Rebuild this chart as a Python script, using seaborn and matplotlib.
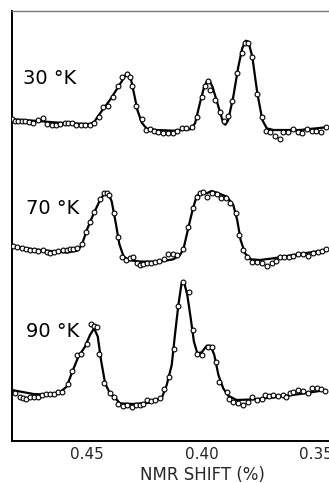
import numpy as np
import pandas as pd
import matplotlib
matplotlib.use("Agg")
import matplotlib.pyplot as plt
import seaborn as sns

# ---------------- data (NMR shift in %, signal in arbitrary units) ----------------
temps = ["30 °K", "70 °K", "90 °K"]
baseline_30 = 319.0
baseline_70 = 193.7
baseline_90 = 50.3

# 30 K measured points
shift_30_obs = [0.4829, 0.4814, 0.4800, 0.4785, 0.4771, 0.4752, 0.4734, 0.4713, 0.4694, 0.4676,
                0.4654, 0.4635, 0.4618, 0.4596, 0.4582, 0.4567, 0.4548, 0.4528, 0.4509, 0.4487,
                0.4468, 0.4449, 0.4429, 0.4407, 0.4385, 0.4363, 0.4346, 0.4327, 0.4312, 0.4302,
                0.4286, 0.4261, 0.4244, 0.4225, 0.4207, 0.4189, 0.4167, 0.4145, 0.4126, 0.4108,
                0.4087, 0.4068, 0.4043, 0.4021, 0.3999, 0.3985, 0.3970, 0.3963, 0.3941, 0.3919,
                0.3902, 0.3883, 0.3865, 0.3844, 0.3825, 0.3810, 0.3795, 0.3778, 0.3759, 0.3737,
                0.3720, 0.3701, 0.3679, 0.3657, 0.3643, 0.3621, 0.3599, 0.3580, 0.3563, 0.3541,
                0.3519, 0.3500, 0.3480, 0.3456]
sig_30_obs = [2.7, 1.3, 1.3, 1.3, 1.3, 0.3, -0.7, 2.0, 3.7, -2.0,
              -2.7, -2.7, -2.0, -0.7, -0.7, -1.3, -2.7, -2.7, -2.7, -3.3,
              -0.7, 5.3, 14.7, 16.0, 25.3, 36.0, 44.7, 48.0, 44.7, 36.0,
              16.0, 2.7, -8.0, -7.3, -8.7, -10.0, -10.7, -10.7, -10.7, -8.7,
              -6.0, -6.3, -5.3, 5.3, 25.3, 36.0, 40.7, 32.0, 22.0, 10.3,
              1.3, 6.0, 21.3, 49.3, 68.7, 78.7, 78.7, 64.7, 27.7, 4.7,
              -8.7, -10.0, -14.0, -16.7, -10.0, -10.0, -7.3, -9.7, -10.7, -7.3,
              -8.7, -8.7, -9.7, -4.7]
# 30 K fitted curve
shift_30_fit = [0.4829, 0.4734, 0.4589, 0.4487, 0.4468, 0.4443, 0.4400, 0.4363, 0.4334, 0.4322,
                0.4309, 0.4295, 0.4280, 0.4261, 0.4239, 0.4196, 0.4123, 0.4050, 0.4028, 0.4007,
                0.3989, 0.3975, 0.3966, 0.3951, 0.3926, 0.3905, 0.3896, 0.3884, 0.3861, 0.3839,
                0.3822, 0.3807, 0.3795, 0.3778, 0.3756, 0.3734, 0.3715, 0.3686, 0.3570, 0.3456]
sig_30_fit = [2.7, 1.3, -1.3, -2.0, 0.3, 8.7, 22.0, 35.3, 46.0, 49.3,
              43.7, 28.7, 12.0, -0.7, -6.7, -8.0, -8.7, -7.3, -1.3, 18.7,
              34.7, 41.3, 42.0, 34.7, 15.3, -0.7, -2.7, 1.3, 25.3, 55.3,
              73.7, 81.3, 80.3, 65.3, 28.7, 2.0, -6.3, -8.0, -8.0, -5.3]

# 70 K measured points
shift_70_obs = [0.4822, 0.4804, 0.4785, 0.4766, 0.4749, 0.4731, 0.4713, 0.4694, 0.4676, 0.4662,
                0.4644, 0.4625, 0.4606, 0.4589, 0.4574, 0.4560, 0.4542, 0.4523, 0.4504, 0.4487,
                0.4468, 0.4443, 0.4426, 0.4414, 0.4402, 0.4381, 0.4363, 0.4346, 0.4330, 0.4312,
                0.4301, 0.4283, 0.4269, 0.4254, 0.4239, 0.4222, 0.4203, 0.4184, 0.4162, 0.4145,
                0.4126, 0.4108, 0.4079, 0.4058, 0.4036, 0.4021, 0.4007, 0.3992, 0.3975, 0.3956,
                0.3934, 0.3916, 0.3894, 0.3876, 0.3849, 0.3835, 0.3817, 0.3800, 0.3778, 0.3759,
                0.3737, 0.3715, 0.3694, 0.3675, 0.3657, 0.3638, 0.3618, 0.3599, 0.3577, 0.3555,
                0.3534, 0.3512, 0.3493, 0.3475, 0.3456]
sig_70_obs = [1.3, 0.0, -1.0, -2.0, -2.7, -2.7, -3.3, -2.7, -4.3, -5.3,
              -4.7, -3.3, -2.7, -2.7, -2.0, -2.0, -1.0, 3.3, 15.7, 25.7,
              35.7, 48.0, 54.0, 54.7, 52.3, 34.0, 10.0, -9.3, -12.7, -11.0,
              -9.3, -16.0, -17.7, -16.7, -16.0, -15.3, -14.3, -13.3, -12.0, -7.0,
              -6.7, -7.7, -2.0, 20.0, 39.0, 50.0, 54.0, 55.0, 50.7, 54.0,
              53.3, 49.0, 49.0, 44.7, 34.0, 12.3, -2.7, -9.3, -14.3, -14.3,
              -16.0, -18.7, -16.0, -13.3, -10.0, -10.0, -9.3, -8.7, -6.7, -7.0,
              -8.3, -5.3, -4.3, -3.3, -2.0]
# 70 K fitted curve
shift_70_fit = [0.4829, 0.4734, 0.4589, 0.4542, 0.4523, 0.4501, 0.4472, 0.4443, 0.4421, 0.4407,
                0.4392, 0.4373, 0.4359, 0.4341, 0.4320, 0.4269, 0.4181, 0.4123, 0.4094, 0.4079,
                0.4058, 0.4039, 0.4021, 0.3999, 0.3977, 0.3956, 0.3934, 0.3890, 0.3861, 0.3844,
                0.3829, 0.3810, 0.3785, 0.3745, 0.3686, 0.3643, 0.3570, 0.3456]
sig_70_fit = [1.3, -2.0, -5.3, -3.3, 2.3, 17.3, 33.3, 47.3, 54.7, 54.0,
              45.7, 22.3, 3.3, -8.7, -12.7, -14.3, -14.3, -12.0, -7.7, -2.0,
              19.0, 37.3, 51.3, 55.7, 54.0, 56.3, 54.7, 50.7, 42.3, 27.3,
              7.3, -6.0, -12.0, -12.7, -11.0, -9.3, -6.7, -2.7]

# 90 K measured points
shift_90_obs = [0.4814, 0.4795, 0.4781, 0.4766, 0.4749, 0.4731, 0.4713, 0.4698, 0.4679, 0.4662,
                0.4644, 0.4628, 0.4608, 0.4584, 0.4567, 0.4545, 0.4526, 0.4501, 0.4483, 0.4468,
                0.4458, 0.4446, 0.4424, 0.4400, 0.4382, 0.4363, 0.4344, 0.4327, 0.4305, 0.4286,
                0.4269, 0.4254, 0.4239, 0.4222, 0.4203, 0.4181, 0.4164, 0.4140, 0.4120, 0.4101,
                0.4082, 0.4053, 0.4039, 0.4021, 0.3996, 0.3973, 0.3956, 0.3937, 0.3922, 0.3890,
                0.3878, 0.3861, 0.3839, 0.3817, 0.3798, 0.3778, 0.3759, 0.3737, 0.3723, 0.3704,
                0.3686, 0.3664, 0.3643, 0.3631, 0.3614, 0.3599, 0.3577, 0.3555, 0.3534, 0.3515,
                0.3497, 0.3480, 0.3461]
sig_90_obs = [-2.0, -6.0, -7.7, -8.7, -6.7, -6.0, -6.7, -4.3, -3.3, -3.3,
              -3.3, -1.0, -1.0, 6.7, 20.0, 35.7, 36.7, 46.7, 66.7, 64.7,
              63.4, 36.7, 7.4, -2.6, -6.0, -13.3, -15.3, -14.3, -16.0, -14.3,
              -14.3, -13.3, -9.3, -10.0, -9.3, -7.0, 1.7, 14.0, 41.7, 85.0,
              109.0, 99.0, 60.7, 36.4, 35.7, 44.0, 44.0, 28.4, 9.0, -1.6,
              -8.7, -11.0, -12.0, -14.3, -11.0, -6.7, -9.3, -8.7, -4.3, -5.3,
              -4.3, -5.3, -4.3, -6.7, -2.7, -1.0, 0.7, 0.0, -2.7, 2.3,
              2.3, 1.3, 0.0]
# 90 K fitted curve
shift_90_fit = [0.4829, 0.4734, 0.4647, 0.4625, 0.4589, 0.4567, 0.4538, 0.4509, 0.4487, 0.4469,
                0.4453, 0.4439, 0.4421, 0.4400, 0.4378, 0.4356, 0.4298, 0.4225, 0.4189, 0.4174,
                0.4152, 0.4130, 0.4116, 0.4101, 0.4087, 0.4076, 0.4062, 0.4047, 0.4033, 0.4018,
                0.3999, 0.3977, 0.3960, 0.3944, 0.3926, 0.3905, 0.3883, 0.3846, 0.3774, 0.3686,
                0.3570, 0.3456]
sig_90_fit = [0.7, -3.3, -4.3, -2.6, 4.0, 17.4, 34.0, 44.0, 55.7, 62.4,
              54.0, 30.7, 7.4, -2.6, -7.0, -12.7, -13.3, -12.0, -8.7, -7.6,
              5.7, 25.7, 55.7, 85.7, 107.4, 108.4, 95.7, 72.4, 49.0, 37.4,
              38.4, 45.0, 45.0, 35.7, 15.7, 2.4, -5.0, -9.3, -8.7, -6.7,
              -3.3, 0.7]

xticks = [0.45, 0.40, 0.35]
xticklabels = ["0.45", "0.40", "0.35"]
xlabel = "NMR SHIFT (%)"

# ---------------- assemble ----------------
series = [
    (temps[0], baseline_30, shift_30_obs, sig_30_obs, shift_30_fit, sig_30_fit),
    (temps[1], baseline_70, shift_70_obs, sig_70_obs, shift_70_fit, sig_70_fit),
    (temps[2], baseline_90, shift_90_obs, sig_90_obs, shift_90_fit, sig_90_fit),
]

sns.set_style("white")
plt.rcParams["font.family"] = ["DejaVu Sans"]

W, H = 329, 483
fig = plt.figure(figsize=(W / 100, H / 100), dpi=100)
ax_left, ax_bottom, ax_top, ax_right = 11.5, 441.0, 10.5, 345.0
ax = fig.add_axes([ax_left / W, (H - ax_bottom) / H, (ax_right - ax_left) / W, (ax_bottom - ax_top) / H])

for name, base, sx, sy, fx, fy in series:
    fit = pd.DataFrame({"shift": fx, "height": np.array(fy) + base})
    obs = pd.DataFrame({"shift": sx, "height": np.array(sy) + base})
    sns.lineplot(data=fit, x="shift", y="height", estimator=None, sort=True,
                 color="black", linewidth=1.6, ax=ax, zorder=2)
    sns.scatterplot(data=obs, x="shift", y="height", marker="o", s=12,
                    facecolor="white", edgecolor="black", linewidth=0.8, ax=ax, zorder=3)

label_pos = {"30 °K": (0.4779, 357.0), "70 °K": (0.4766, 227.0), "90 °K": (0.4766, 104.0)}
for name, (lx, ly) in label_pos.items():
    ax.text(lx, ly, name, fontsize=14, ha="left", va="baseline", color="black")

# x range: pixel 11.5 -> 0.4830, pixel 345 -> 0.3373
ax.set_xlim(0.4830, 0.3373)
ax.set_ylim(0, ax_bottom - ax_top)
ax.set_xticks(xticks)
ax.set_xticklabels(xticklabels)
ax.set_yticks([])
ax.tick_params(axis="x", direction="in", length=10, width=1.0, pad=4, labelsize=11, color="black")
ax.set_xlabel(xlabel, fontsize=12)
ax.xaxis.set_label_coords(0.574, -0.058)
ax.set_ylabel("")

for side in ["left", "bottom"]:
    ax.spines[side].set_visible(True)
    ax.spines[side].set_color("black")
    ax.spines[side].set_linewidth(1.4)
ax.spines["top"].set_color("#777777")
ax.spines["top"].set_linewidth(1.0)
ax.spines["right"].set_visible(False)

fig.savefig("out.png", dpi=100)
